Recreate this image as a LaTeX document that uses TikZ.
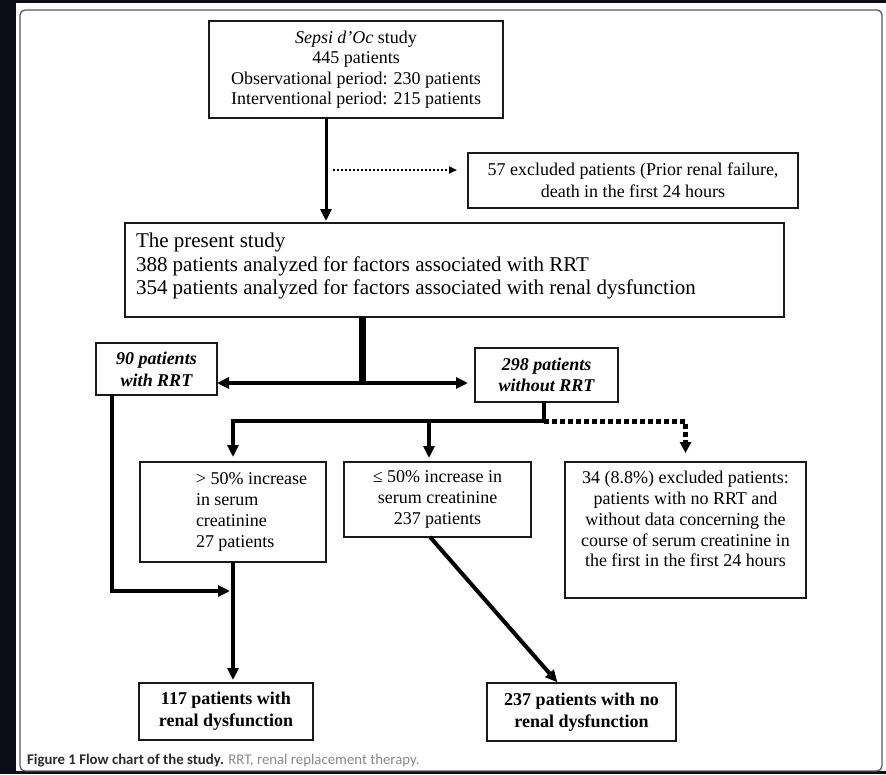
\documentclass[tikz,border=0pt]{standalone}
\usepackage{fontspec}
\setmainfont{Liberation Serif}
\newfontfamily\capfont{Carlito}
\usetikzlibrary{arrows.meta}
\definecolor{bgdark}{HTML}{0B0D17}
\definecolor{boxline}{HTML}{1A1A1A}
\definecolor{capdark}{HTML}{2B2B2B}
\definecolor{capgray}{HTML}{8A8A8A}
\definecolor{panelline}{HTML}{5A5A5A}
\tikzset{
  fbox/.style={draw=boxline, line width=1.3pt, fill=white, inner sep=0pt, outer sep=0pt},
  tip/.style={-{Triangle[length=12pt,width=11pt]}},
  conn/.style={draw=black, line width=4pt},
  dotline/.style={draw=black, line width=2pt, dash pattern=on 2pt off 2pt, -{Triangle[length=8pt,width=7pt]}},
  dotthick/.style={draw=black, line width=5pt, dash pattern=on 5pt off 3pt, -{Triangle[length=11pt,width=11pt]}},
}
\begin{document}
\begin{tikzpicture}[x=1pt,y=-1pt]
\useasboundingbox (0,0) rectangle (886,774);
\fill[bgdark] (0,0) rectangle (886,774);
\fill[white] (16,3) rectangle (886,771);
\draw[panelline, line width=1.3pt, rounded corners=5pt] (20,10) rectangle (882,771);

% boxes
\node[fbox] (top) at (356,69.5) {\parbox[c][97pt][c]{294pt}{\centering\fontsize{18pt}{20.5pt}\selectfont
  \textit{Sepsi d’Oc} study\\445 patients\\Observational period: 230 patients\\Interventional period: 215 patients}};
\node[fbox] (excl) at (633,180.5) {\parbox[c][55pt][c]{330pt}{\centering\fontsize{18pt}{22pt}\selectfont
  57 excluded patients (Prior renal failure,\\death in the first 24 hours}};
\node[fbox] (study) at (454.5,270) {\parbox[c][94pt][t]{659pt}{\raggedright\fontsize{21pt}{23.5pt}\selectfont\leftskip=11pt
  \vspace*{10pt}The present study\\388 patients analyzed for factors associated with RRT\\354 patients analyzed for factors associated with renal dysfunction}};
\node[fbox] (rrt) at (156.5,369) {\parbox[c][52pt][c]{121pt}{\centering\fontsize{18pt}{22pt}\selectfont\bfseries\itshape
  90 patients\\with RRT}};
\node[fbox] (norrt) at (546.5,375) {\parbox[c][54pt][c]{143pt}{\centering\fontsize{18pt}{21pt}\selectfont\bfseries\itshape
  298 patients\\without RRT}};
\node[fbox] (gt50) at (233,512) {\parbox[c][100pt][c]{186pt}{\raggedright\fontsize{18pt}{21pt}\selectfont\leftskip=56pt
  > 50\% increase\\in serum\\creatinine\\27 patients}};
\node[fbox] (le50) at (437.5,499.5) {\parbox[c][75pt][c]{187pt}{\centering\fontsize{18pt}{21pt}\selectfont
  ≤ 50\% increase in\\serum creatinine\\237 patients}};
\node[fbox] (excl34) at (685.5,530) {\parbox[c][136pt][t]{241pt}{\centering\fontsize{18pt}{20.75pt}\selectfont
  \vspace*{9.5pt}34 (8.8\%) excluded patients:\\patients with no RRT and\\without data concerning the\\course of serum creatinine in\\the first in the first 24 hours}};
\node[fbox] (rd117) at (226,711.5) {\parbox[c][57pt][c]{174pt}{\centering\fontsize{18pt}{22pt}\selectfont\bfseries
  117 patients with\\renal dysfunction}};
\node[fbox] (nord237) at (581.5,712) {\parbox[c][58pt][c]{189pt}{\centering\fontsize{18pt}{22pt}\selectfont\bfseries
  237 patients with no\\renal dysfunction}};

% caption
\node[anchor=base west, inner sep=0pt] (cap) at (27,764) {\capfont\fontsize{14.8pt}{16pt}\selectfont
  \textcolor{capdark}{\bfseries Figure 1 Flow chart of the study.} \textcolor{capgray}{RRT, renal replacement therapy.}};

% junction coordinates
\coordinate (ax) at (326,170);
\coordinate (sp1) at (362,383);
\coordinate (sp2) at (544,421);
\coordinate (sp3) at (429,421);
\coordinate (lft) at (112,591);
\coordinate (mg) at (233,591);

% connectors
\draw[conn, line width=3pt, tip, shorten >=2pt] (top.south -| ax) -- (study.north -| ax);
\draw[dotline, shorten <=7pt, shorten >=11pt] (ax) -- (excl.west |- ax);
\draw[draw=black, line width=7pt] (study.south -| sp1) -- ([yshift=-2pt]sp1);
\draw[conn, {Triangle[length=12pt,width=11pt]}-{Triangle[length=12pt,width=11pt]}, shorten >=7pt]
  (rrt.east |- sp1) -- (norrt.west |- sp1);
\draw[dotthick, shorten >=9pt] (sp2) -- (excl34.north |- sp2) -- (excl34.north);
\draw[conn, line width=4.5pt, tip, shorten >=5pt] (norrt.south -| sp2) -- (sp2) -- (gt50.north |- sp2) -- (gt50.north);
\draw[conn, tip, shorten >=4pt] (sp3) -- (le50.north -| sp3);
\draw[conn, tip, shorten >=3pt] (rrt.south -| lft) -- (lft) -- (mg);
\draw[conn, tip, shorten >=3pt] (gt50.south) -- (rd117.north -| gt50.south);
\draw[conn, tip, shorten >=1pt] ([xshift=-7.5pt]le50.south) -- ([xshift=-23.5pt]nord237.north);
\end{tikzpicture}
\end{document}
